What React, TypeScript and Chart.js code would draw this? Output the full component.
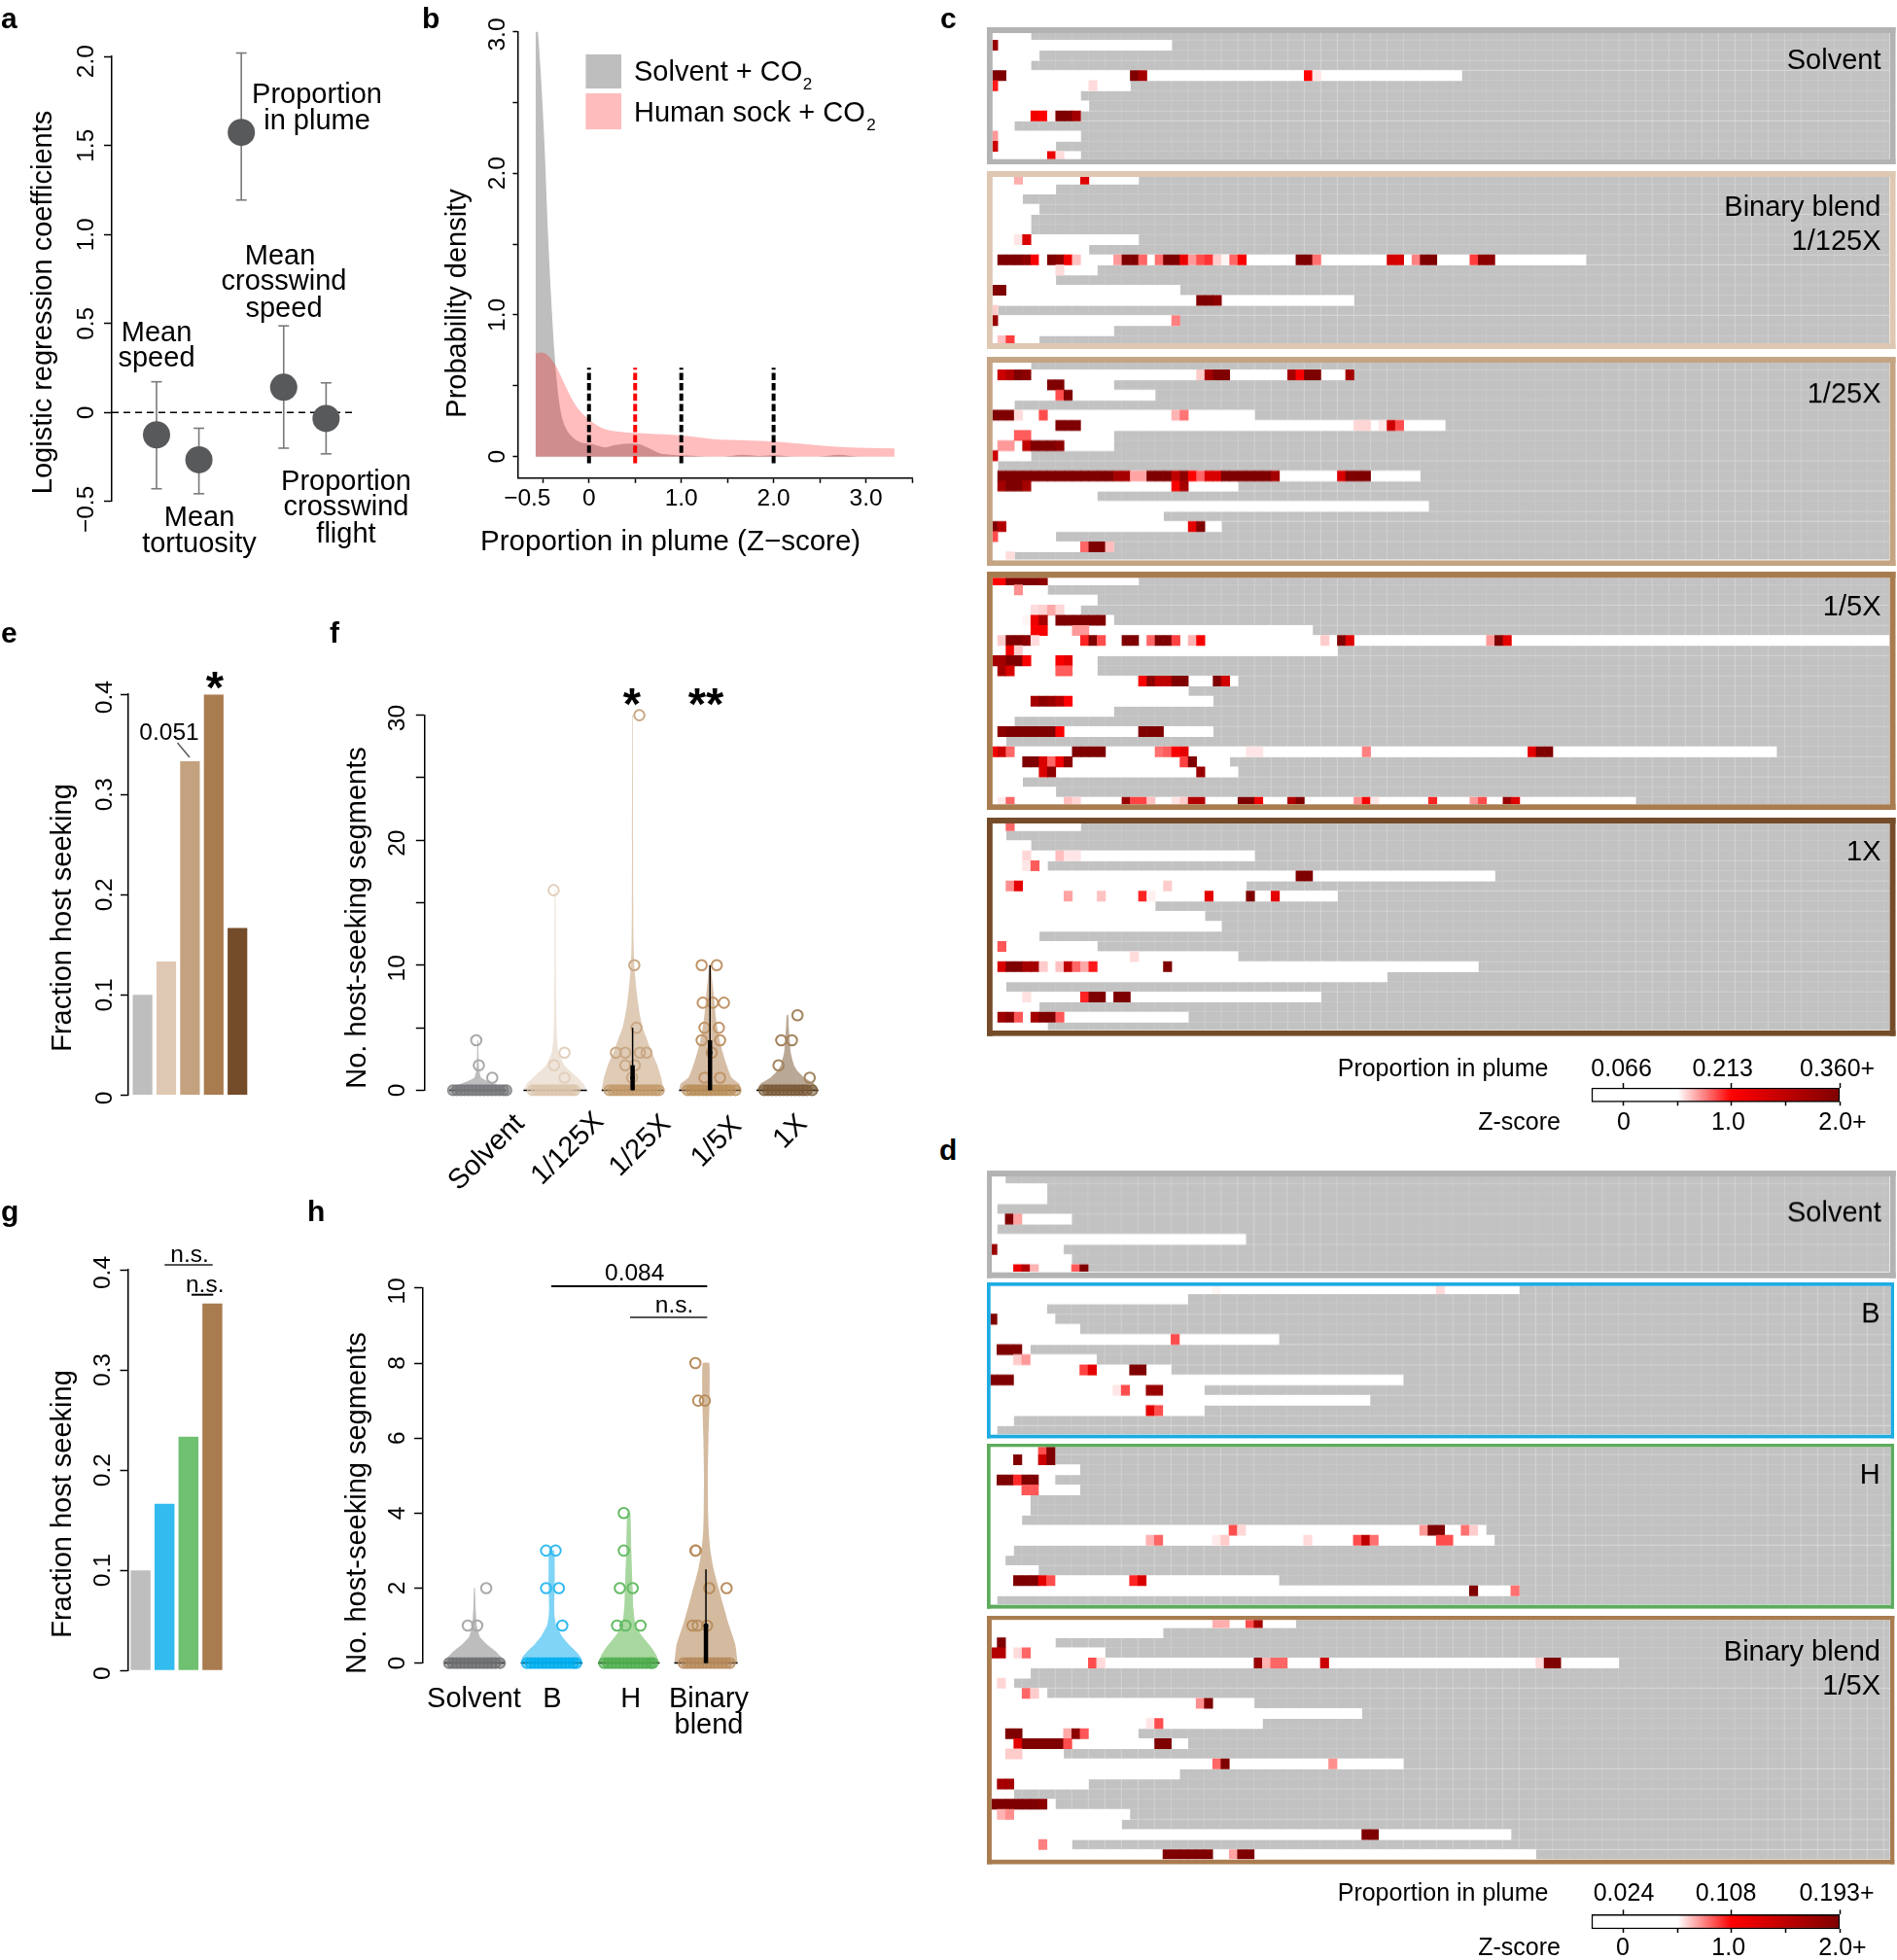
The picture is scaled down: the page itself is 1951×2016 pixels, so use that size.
import React, { useEffect, useRef } from "react";
import { Chart, registerables } from "chart.js";

Chart.register(...registerables);

const FONT = '"Liberation Sans", Arial, sans-serif';

/* ---------- panel a ---------- */
const aPos = [1, 2, 3, 4, 5];
const aMean = [-0.125, -0.265, 1.574, 0.142, -0.033];
const aHi = [0.173, -0.088, 2.02, 0.487, 0.167];
const aLo = [-0.428, -0.456, 1.194, -0.2, -0.232];
const aTicks = [-0.5, 0, 0.5, 1, 1.5, 2];
const aTickLabels = ["−0.5", "0", "0.5", "1.0", "1.5", "2.0"];

/* ---------- panel b ---------- */
const bSolvent = [[-0.58, 3.03], [-0.563, 3.03], [-0.527, 2.75], [-0.48, 2.17], [-0.445, 1.59], [-0.41, 1.12], [-0.374, 0.73], [-0.338, 0.465], [-0.303, 0.307], [-0.25, 0.2], [-0.178, 0.137], [-0.071, 0.097], [0, 0.092], [0.089, 0.079], [0.178, 0.066], [0.285, 0.081], [0.427, 0.092], [0.534, 0.089], [0.64, 0.063], [0.765, 0.024], [0.89, 0.013], [1.07, 0.008], [1.28, 0], [1.46, 0], [1.656, 0.013], [1.85, 0.005], [2.01, 0.01], [2.24, 0], [2.49, 0], [2.71, 0.013], [2.92, 0], [3.31, 0]];
const bSock = [[-0.58, 0.727], [-0.516, 0.735], [-0.445, 0.714], [-0.356, 0.635], [-0.25, 0.49], [-0.142, 0.36], [0, 0.262], [0.142, 0.202], [0.32, 0.176], [0.64, 0.163], [1, 0.15], [1.353, 0.123], [1.71, 0.115], [1.99, 0.108], [2.42, 0.084], [2.78, 0.066], [3.31, 0.058]];
const bMarkers = [0, 0.5, 1, 2];
const bXTicks = [-0.5, 0, 0.5, 1, 1.5, 2, 2.5, 3, 3.5];
const bYTicks = [0, 0.5, 1, 1.5, 2, 2.5, 3];

/* ---------- panels e, g ---------- */
const eValues = [0.1, 0.1333, 0.3333, 0.4, 0.1667];
const eColors = ["#bebebe", "#dfc8b3", "#c4a27f", "#a97c50", "#754c29"];
const gValues = [0.1, 0.1664, 0.2333, 0.3662];
const gColors = ["#bebebe", "#33bbf0", "#70c072", "#a97c50"];
const fracTicks = [0, 0.1, 0.2, 0.3, 0.4];

/* ---------- panel f ---------- */
const fCategories = ["Solvent", "1/125X", "1/25X", "1/5X", "1X"];
const fViolins = [
  [[0, 0.37], [0.3, 0.32], [0.6, 0.18], [1, 0.045], [1.5, 0.022], [2, 0.014], [3, 0.008], [4, 0.005]],
  [[0, 0.41], [0.5, 0.37], [1, 0.29], [1.5, 0.2], [2, 0.12], [3, 0.045], [4, 0.025], [5, 0.018], [6, 0.014], [10, 0.009], [16, 0.006]],
  [[0, 0.4], [1, 0.37], [2, 0.32], [3, 0.25], [4, 0.19], [5, 0.13], [6, 0.095], [7, 0.07], [8, 0.05], [9, 0.035], [10, 0.022], [12, 0.012], [15, 0.009], [20, 0.007], [30, 0.004]],
  [[0, 0.4], [0.5, 0.38], [1, 0.28], [2, 0.215], [3, 0.165], [4, 0.125], [5, 0.095], [6, 0.072], [7, 0.058], [8, 0.043], [9, 0.025], [10, 0.01]],
  [[0, 0.4], [0.5, 0.35], [1, 0.22], [1.5, 0.135], [2, 0.085], [3, 0.043], [4, 0.03], [5, 0.018], [6, 0.01]],
];
const fFill = ["#bdbdbd", "#efe4da", "#dfcbb6", "#d6bea6", "#b9a895"];
const fStroke = ["#a9a9a9", "#e3cfbc", "#c9a885", "#c09468", "#a3835f"];
const fBand = ["#77787b", "#dcc5ad", "#c39b6c", "#b98e5a", "#7a5a38"];
const fPoints = [
  [[-0.02, 4], [0.014, 2], [0.187, 1]],
  [[-0.02, 16], [0.12, 3], [-0.014, 2], [0.12, 1]],
  [[0.087, 30], [0.022, 10], [0.05, 5], [-0.216, 3], [-0.094, 3], [0.094, 3], [0.18, 3], [-0.094, 2], [0.029, 2], [-0.007, 1]],
  [[-0.108, 10], [0.087, 10], [-0.094, 7], [0.036, 7], [0.18, 7], [-0.072, 5], [0.115, 5], [-0.108, 4], [0.13, 4], [0.022, 3], [-0.072, 1], [0.13, 1]],
  [[0.13, 6], [-0.08, 4], [0.058, 4], [-0.115, 2], [0.288, 1]],
];
const fZeros = [
  [-0.32, -0.27, -0.22, -0.17, -0.12, -0.07, -0.02, 0.03, 0.08, 0.13, 0.18, 0.23, 0.28, 0.33, 0.37],
  [-0.29, -0.24, -0.19, -0.14, -0.09, -0.04, 0.01, 0.06, 0.11, 0.16, 0.21, 0.25],
  [-0.3, -0.25, -0.2, -0.15, -0.1, -0.05, 0, 0.05, 0.1, 0.15, 0.2, 0.25, 0.3, 0.34],
  [-0.29, -0.24, -0.19, -0.14, -0.09, -0.04, 0.01, 0.06, 0.11, 0.16, 0.21, 0.26, 0.33],
  [-0.3, -0.25, -0.2, -0.15, -0.1, -0.05, 0, 0.05, 0.1, 0.15, 0.2, 0.25, 0.32],
];
const fBoxes = [[3, 5, 2, 1], [4, 10, 4, 3]]; // group index+1, thin top, thick top, median
const fTicks = [0, 5, 10, 15, 20, 25, 30];

/* ---------- panel h ---------- */
const hCategories = ["Solvent", "B", "H", "Binary blend"];
const hViolins = [
  [[0, 0.39], [0.1, 0.37], [0.3, 0.28], [0.5, 0.16], [0.7, 0.07], [1, 0.03], [1.5, 0.014], [2, 0.006]],
  [[0, 0.4], [0.15, 0.38], [0.3, 0.32], [0.5, 0.22], [0.7, 0.14], [1, 0.06], [1.25, 0.038], [1.5, 0.033], [2, 0.04], [2.5, 0.04], [3, 0.033]],
  [[0, 0.4], [0.2, 0.36], [0.4, 0.3], [0.6, 0.22], [0.8, 0.145], [1, 0.087], [1.5, 0.058], [2, 0.05], [3, 0.033], [4, 0.02]],
  [[0, 0.41], [0.5, 0.38], [1, 0.3], [1.5, 0.23], [2, 0.165], [2.5, 0.1], [3, 0.058], [3.5, 0.036], [4, 0.029], [5, 0.025], [6, 0.033], [7, 0.047], [8, 0.043]],
];
const hFill = ["#bdbdbd", "#80d4f6", "#a8d8a0", "#d4bb9f"];
const hStroke = ["#a9a9a9", "#33bbf0", "#66bb66", "#b98e5f"];
const hBand = ["#6d6e71", "#00aeef", "#4fae4f", "#b78a5c"];
const hPoints = [
  [[0.152, 2], [-0.087, 1], [0.036, 1]],
  [[-0.072, 3], [0.051, 3], [-0.072, 2], [0.094, 2], [0.138, 1]],
  [[-0.065, 4], [-0.065, 3], [-0.116, 2], [0.051, 2], [-0.152, 1], [-0.043, 1], [0.152, 1]],
  [[-0.137, 8], [-0.101, 7], [-0.014, 7], [-0.137, 3], [-0.13, 3], [0.043, 2], [0.268, 2], [-0.174, 1], [-0.108, 1], [0.014, 1]],
];
const hZeros = [
  [-0.33, -0.28, -0.23, -0.18, -0.13, -0.08, -0.03, 0.02, 0.07, 0.12, 0.17, 0.22, 0.27, 0.33],
  [-0.32, -0.27, -0.22, -0.17, -0.12, -0.07, -0.02, 0.03, 0.08, 0.13, 0.18, 0.23, 0.28, 0.32],
  [-0.32, -0.27, -0.22, -0.17, -0.12, -0.07, -0.02, 0.03, 0.08, 0.13, 0.18, 0.23, 0.28, 0.31],
  [-0.29, -0.24, -0.19, -0.14, -0.09, -0.04, 0.01, 0.06, 0.11, 0.16, 0.21, 0.26, 0.31],
];
const hBoxes = [[4, 2.5, 1, 1]];
const hTicks = [0, 2, 4, 6, 8, 10];

/* ---------- heat maps: [white end, [col, z, z...], [col, z...]...] ---------- */
const cSolventRows: any[] = [
  [4], [21, [-1, 1.8]], [5], [4],
  [56, [-1, 2, 2], [16, 2, 1.7], [37, 1, 0.55]],
  [16, [-1, 0.95], [11, 0.57]], [10], [11],
  [10, [4, 1.1, 1, 0.52, 2, 2, 1.7]],
  [2], [10, [-1, 0.7]], [7, [-1, 1.4]], [10, [6, 1.15, 0.57]],
];
const c125Rows: any[] = [
  [17, [2, 0.66], [10, 1.25]], [7], [3], [5], [4], [4],
  [17, [2, 0.55, 1.3]], [11],
  [71, [0, 2, 2, 2, 1.9, 1.05, 0.5, 2, 1.9, 1.1, 0.62], [14, 0.7, 2, 2, 0.8], [19, 0.78, 2, 2, 1.15, 0.7, 0.85, 0.9, 0.6, 0.52, 0.8, 1.05], [36, 2, 2, 0.78], [47, 1.35, 1.3], [50, 0.75, 2, 2], [57, 0.88, 1.9, 1.9]],
  [12, [7, 0.57]], [7], [22, [-1, 2, 2]], [43, [24, 2, 2, 1.9]],
  [0, [-1, 0.6]], [22, [-1, 1.8], [21, 0.75]], [14], [5, [0, 0.62, 0.88]],
];
const c25Rows: any[] = [
  [4],
  [43, [0, 1.4, 1.6, 2, 1.9], [24, 0.6, 1.7, 2, 2], [35, 1.7, 1.05, 2, 2], [42, 1.7]],
  [14, [6, 2, 2]], [19, [7, 0.85, 2]], [2],
  [31, [-1, 2, 2, 2, 0.57], [5, 0.85], [21, 0.65, 0.77]],
  [54, [7, 2, 2, 2], [43, 0.58, 0.58], [46, 0.55, 1.4, 0.85]],
  [14, [2, 0.82, 0.82]],
  [14, [0, 0.7, 0.7], [3, 1.5, 2, 2, 2, 1.9]],
  [4, [-1, 1.4]], [0],
  [51, [0, 2, 2, 2, 2, 2, 2, 2, 2, 2, 2, 2, 2, 2, 2, 1.7, 1.7], [16, 0.68, 0.68, 2, 2, 2, 1.5, 1.9, 1, 0.8, 1.3, 1.3, 2, 2, 2, 2, 2, 2, 1.7], [41, 1.3, 2, 2, 2]],
  [29, [0, 1.7, 2, 2, 1.7], [21, 1.05, 1.7]],
  [12], [52], [20],
  [27, [-1, 2, 1.6], [23, 1.2, 2]],
  [7, [-1, 0.85]], [14, [10, 0.8, 2, 2, 0.63]], [2, [1, 0.57]],
];
const c5Rows: any[] = [
  [17, [-1, 1, 1, 2, 2, 2, 2, 1.9]],
  [6, [2, 0.72]], [12],
  [10, [4, 0.57, 0.59, 0.67, 0.58]],
  [14, [3, 0.52, 1.15, 1.7], [7, 2, 2, 2, 2, 2, 2]],
  [38, [4, 1.05, 1.05], [9, 0.7, 0.7]],
  [108, [0, 0.6, 2, 2, 1.9, 0.57], [10, 0.93, 2, 0.85], [15, 2, 2], [18, 0.8, 2, 2, 0.87], [23, 0.65, 1.05], [39, 0.6], [41, 2, 1.25], [59, 0.7, 2, 1.2]],
  [41, [1, 1.1, 0.6]],
  [12, [-1, 1.7, 1.7, 2, 2, 1.05], [7, 1.05, 1.2]],
  [12, [0, 1.7, 1.3], [7, 0.82, 0.82]],
  [29, [17, 1.05, 1.9, 1.5, 1.5, 2, 2], [26, 2, 1.35]],
  [23],
  [26, [4, 1.7, 1.9, 1.8, 1.6, 1]],
  [14], [2],
  [26, [0, 1.9, 2, 2, 2, 2, 2, 2, 1.05], [17, 2, 2, 2]],
  [1],
  [94, [-1, 1.1, 1.4, 0.8], [9, 2, 2, 2, 2], [19, 0.78, 0.82, 1.05, 1.2], [30, 0.55, 0.55], [44, 0.75], [64, 1.2, 2, 2]],
  [28, [3, 2, 2, 1.3, 0.8, 1.1, 1.9], [22, 0.87, 2]],
  [29, [5, 1.3, 1.9], [24, 1.8]],
  [3], [7],
  [77, [0, 0.54, 0.8], [8, 0.63, 0.58], [15, 1.8, 0.87, 0.87, 0.62], [21, 0.55, 0.6, 1.6, 1.6], [29, 2, 2, 1.1], [35, 1.6, 2], [43, 0.72, 1.05, 0.55], [52, 0.93], [57, 0.7, 0.85], [61, 1.8, 1.25]],
];
const c1Rows: any[] = [
  [10, [1, 0.8]], [1], [4],
  [31, [3, 0.58], [7, 0.63, 0.55, 0.55]],
  [6, [3, 0.55, 0.82]],
  [60, [36, 2, 2]],
  [30, [1, 0.72, 1.2], [20, 0.6]],
  [41, [8, 0.68], [12, 0.62], [17, 0.93, 0.53], [25, 1.2], [30, 2], [33, 1.2]],
  [19], [25], [27], [5], [12, [0, 0.83]], [29, [16, 0.57]],
  [58, [0, 1.3, 2, 2, 1.7, 1.7, 0.6], [7, 0.62, 1.5, 0.8, 0.67, 0.95], [20, 2]],
  [47], [1],
  [39, [3, 0.56], [10, 0.93, 2, 2], [14, 2, 2]],
  [5],
  [23, [0, 1.75, 1.9, 0.83], [4, 1.7, 2, 2, 0.83]],
  [6],
];
const dSolventRows: any[] = [
  [1], [6], [6], [0], [9, [1, 2, 0.68]], [0], [30], [8, [-1, 1.8]], [9],
  [11, [2, 1.15, 1.6, 0.65], [9, 0.83, 2]],
];
const dBRows: any[] = [
  [63, [26, 0.52], [53, 0.57]], [23], [6], [7, [-1, 2]], [10],
  [34, [21, 0.85]], [4, [0, 2, 2, 2]], [12, [2, 0.6, 0.7]],
  [21, [10, 0.87, 1.2], [16, 2, 2]],
  [49, [-1, 2, 2, 2]],
  [25, [14, 0.55, 0.85], [18, 1.8, 1.8]],
  [45], [25, [18, 1.2, 0.85]], [2], [0],
];
const dHRows: any[] = [
  [7, [5, 0.85, 2]], [7, [2, 2], [5, 1.4, 2]], [10],
  [7, [0, 2, 2, 0.92, 2, 2]], [10, [3, 0.83, 0.83]],
  [4], [4], [3],
  [59, [28, 0.85, 0.58], [51, 0.7, 2, 2], [56, 0.78, 0.6]],
  [60, [18, 0.65, 0.8], [26, 0.54, 0.6], [37, 0.57], [43, 0.85, 1.5, 0.78], [53, 0.85, 0.85]],
  [2], [1], [5],
  [34, [2, 2, 2, 2, 1.2, 0.85], [16, 0.93, 1.3]],
  [63, [57, 2], [62, 0.78]],
  [0],
];
const dBlendRows: any[] = [
  [36, [26, 0.66, 0.66], [30, 0.85, 1.7]],
  [20], [7, [0, 2]], [13, [-1, 1.6, 1.6], [2, 0.57, 0.8]],
  [75, [11, 0.85, 0.57], [31, 1.8, 0.65, 0.8, 0.8], [39, 1.4], [65, 0.57, 2, 2]],
  [4], [2, [0, 0.58]], [6, [3, 0.8, 0.6]],
  [31, [24, 0.72, 2]], [44], [32, [18, 0.55, 0.85]],
  [17, [1, 2, 2], [8, 0.67, 1.9, 0.83]],
  [23, [2, 1.2, 2, 2, 2, 2, 2, 0.85], [19, 2, 2]],
  [8, [1, 0.6, 0.6]],
  [49, [26, 0.8, 2], [40, 0.72]],
  [22], [11, [0, 1.7, 1.7]], [2],
  [7, [-1, 2, 2, 2, 2, 2, 2, 1.9]],
  [16, [0, 0.65, 0.72]], [15], [62, [44, 2, 2]],
  [9, [5, 0.75]],
  [65, [20, 2, 2, 2, 2, 2, 2], [28, 0.68, 2, 2]],
];

const heatPanels = [
  { rows: cSolventRows, color: "#b3b3b3", outer: [1014.5, 28.3, 1949, 169.3], inner: [1020.3, 34.3, 1943, 164], clip: 2.13, labels: [["Solvent", 60.5]] },
  { rows: c125Rows, color: "#dfc8b3", outer: [1014.5, 176, 1949, 359], inner: [1020.3, 182, 1943, 353], clip: 2.13, labels: [["Binary blend", 212], ["1/125X", 246.5]] },
  { rows: c25Rows, color: "#c4a482", outer: [1014.5, 367.3, 1949, 581.3], inner: [1020.3, 373.3, 1943, 575.7], clip: 2.13, labels: [["1/25X", 404]] },
  { rows: c5Rows, color: "#a97c50", outer: [1014.5, 587.7, 1949, 832.7], inner: [1020.3, 594, 1943, 827], clip: 2.13, labels: [["1/5X", 622.7]] },
  { rows: c1Rows, color: "#754c29", outer: [1014.5, 840.7, 1949, 1065.3], inner: [1020.3, 846.7, 1943, 1059.7], clip: 2.13, labels: [["1X", 874.6]] },
  { rows: dSolventRows, color: "#b3b3b3", outer: [1015.3, 1204, 1949, 1313.7], inner: [1020.3, 1210, 1943, 1307.7], clip: 2.13, labels: [["Solvent", 1246]] },
  { rows: dBRows, color: "#1cabe2", outer: [1015.3, 1319.3, 1948.3, 1478.7], inner: [1019, 1323, 1945, 1475], clip: 2.8, labels: [["B", 1350]] },
  { rows: dHRows, color: "#5dab5d", outer: [1015.3, 1484.7, 1948.3, 1654.3], inner: [1019, 1488, 1945, 1650.3], clip: 2.8, labels: [["H", 1515]] },
  { rows: dBlendRows, color: "#a97c50", outer: [1015, 1661.5, 1948.3, 1917], inner: [1019.9, 1665.7, 1944, 1912.3], clip: 2.8, labels: [["Binary blend", 1697], ["1/5X", 1731.7]] },
];

const colorBars = [
  { top: 1119, bottom: 1133.3, box: [1360, 1082, 591, 92], topLabels: [["0.066", 1667.6], ["0.213", 1771.7], ["0.360+", 1889.6]], botLabels: [["0", 1670], ["1.0", 1777.5], ["2.0+", 1895]], yTop: 1098, yBot: 1153 },
  { top: 1969.3, bottom: 1984, box: [1360, 1930, 591, 86], topLabels: [["0.024", 1670], ["0.108", 1775], ["0.193+", 1889]], botLabels: [["0", 1669], ["1.0", 1777.7], ["2.0+", 1895]], yTop: 1946, yBot: 2002 },
];

/* ---------- helpers ---------- */
function heatColor(z: number) {
  if (z <= 0.5) return "#ffffff";
  if (z <= 1) {
    const v = Math.round(255 * (1 - (z - 0.5) / 0.5));
    return `rgb(255,${v},${v})`;
  }
  const t = Math.min(z - 1, 1);
  return `rgb(${Math.round(255 - 128 * t)},0,0)`;
}

function notes(fn: (chart: any) => any[], box: number[]) {
  return {
    id: "notes",
    afterDraw(chart: any) {
      const ctx = chart.ctx;
      for (const n of fn(chart)) {
        ctx.save();
        ctx.translate(-box[0], -box[1]);
        if (n.rect) {
          ctx.fillStyle = n.color;
          ctx.fillRect(n.rect[0], n.rect[1], n.rect[2], n.rect[3]);
        } else if (n.line) {
          ctx.strokeStyle = n.color || "#000";
          ctx.lineWidth = n.w || 1.5;
          ctx.beginPath();
          ctx.moveTo(n.line[0], n.line[1]);
          ctx.lineTo(n.line[2], n.line[3]);
          ctx.stroke();
        } else {
          const size = n.size || 29;
          ctx.translate(n.x, n.y);
          if (n.rot) ctx.rotate((n.rot * Math.PI) / 180);
          ctx.font = `${n.weight || "normal"} ${size}px ${FONT}`;
          ctx.fillStyle = n.color || "#000";
          ctx.textAlign = n.align || "center";
          ctx.textBaseline = "middle";
          ctx.fillText(n.t, 0, size * 0.08);
        }
        ctx.restore();
      }
    },
  };
}

function baseOptions(box: number[], area: number[], scales: any) {
  return {
    responsive: false,
    maintainAspectRatio: false,
    animation: false,
    devicePixelRatio: 1,
    events: [],
    layout: {
      padding: {
        left: area[0] - box[0],
        top: area[1] - box[1],
        right: box[0] + box[2] - area[2],
        bottom: box[1] + box[3] - area[3],
      },
    },
    plugins: { legend: { display: false }, tooltip: { enabled: false } },
    scales,
  };
}

function tickSetter(values: number[]) {
  return (s: any) => {
    s.ticks = values.map((value) => ({ value }));
  };
}

function axisY(min: number, max: number, ticks: number[], tickLength = 8) {
  return {
    type: "linear",
    position: "left",
    min,
    max,
    afterBuildTicks: tickSetter(ticks),
    afterFit: (s: any) => {
      s.width = 0;
    },
    ticks: { display: false, autoSkip: false },
    border: { display: true, color: "#000", width: 1.5 },
    grid: { drawOnChartArea: false, drawTicks: true, tickLength, tickColor: "#000", tickWidth: 1.5 },
  };
}

function yTickNotes(chart: any, values: number[], labels: string[], x: number, box: number[], size = 24.5, dys: number[] = []) {
  const s = chart.scales.y;
  return values.map((v, i) => ({
    t: labels[i],
    x,
    y: s.getPixelForValue(v) + box[1] + (dys[i] || 0),
    rot: -90,
    size,
  }));
}

/* ---------- panel configs ---------- */
function panelA() {
  const box = [0, 0, 440, 600];
  const area = [115, 58.2, 365, 515.9];
  const datasets: any[] = [
    {
      data: aPos.map((x, i) => ({ x, y: aMean[i] })),
      pointRadius: 14,
      pointBackgroundColor: "#58595b",
      pointBorderWidth: 0,
      showLine: false,
      clip: false,
    },
  ];
  aPos.forEach((x, i) => {
    datasets.push({
      data: [{ x, y: aLo[i] }, { x, y: aHi[i] }],
      showLine: true,
      borderColor: "#7a7a7a",
      borderWidth: 1.6,
      pointStyle: "line",
      pointRadius: 5.5,
      pointBorderColor: "#7a7a7a",
      pointBorderWidth: 1.6,
      clip: false,
    });
  });
  datasets.push({
    data: [{ x: -0.055, y: 0 }, { x: 5.68, y: 0 }],
    showLine: true,
    borderColor: "#000",
    borderWidth: 1.5,
    borderDash: [7, 5],
    pointRadius: 0,
  });
  return {
    box,
    config: {
      type: "scatter",
      data: { datasets },
      options: baseOptions(box, area, { x: { type: "linear", display: false, min: -0.055, max: 5.68 }, y: axisY(-0.5, 2, aTicks, 8) }),
      plugins: [
        notes(
          (c) => [
            ...yTickNotes(c, aTicks, aTickLabels, 87.7, box, 24.5, [8, 0, 0, 0, 0, 5]),
            { t: "Logistic regression coefficients", x: 43, y: 311, rot: -90 },
            { t: "Proportion", x: 326, y: 95.7 },
            { t: "in plume", x: 326, y: 122.5 },
            { t: "Mean", x: 161, y: 340.6 },
            { t: "speed", x: 161, y: 367 },
            { t: "Mean", x: 288, y: 262 },
            { t: "crosswind", x: 292, y: 288 },
            { t: "speed", x: 292, y: 316 },
            { t: "Mean", x: 205, y: 531 },
            { t: "tortuosity", x: 205, y: 558 },
            { t: "Proportion", x: 356, y: 494 },
            { t: "crosswind", x: 356, y: 520 },
            { t: "flight", x: 356, y: 548 },
          ],
          box
        ),
      ],
    },
  };
}

function panelB() {
  const box = [440, 0, 535, 600];
  const area = [532.4, 32.5, 938, 491.8];
  const datasets: any[] = bMarkers.map((m) => ({
    data: [{ x: m, y: -0.047 }, { x: m, y: 0.627 }],
    showLine: true,
    borderColor: m === 0.5 ? "#ff0000" : "#000000",
    borderWidth: 4,
    borderDash: [7.5, 3.2],
    pointRadius: 0,
  }));
  datasets.push({
    data: bSock.map(([x, y]) => ({ x, y })),
    showLine: true,
    fill: { value: 0 },
    backgroundColor: "rgba(255,0,0,0.26)",
    borderWidth: 0,
    pointRadius: 0,
    cubicInterpolationMode: "monotone",
  });
  datasets.push({
    data: bSolvent.map(([x, y]) => ({ x, y })),
    showLine: true,
    fill: { value: 0 },
    backgroundColor: "#bebebe",
    borderWidth: 0,
    pointRadius: 0,
    cubicInterpolationMode: "monotone",
    clip: false,
  });
  const xLabels: any[] = [[-0.5, "−0.5", -16], [0, "0", 0], [1, "1.0", 0], [2, "2.0", 0], [3, "3.0", 0]];
  return {
    box,
    config: {
      type: "scatter",
      data: { datasets },
      options: baseOptions(box, area, {
        x: {
          type: "linear",
          position: "bottom",
          min: -0.773,
          max: 3.5,
          afterBuildTicks: tickSetter(bXTicks),
          afterFit: (s: any) => {
            s.height = 0;
          },
          ticks: { display: false, autoSkip: false },
          border: { display: true, color: "#000", width: 1.5 },
          grid: { drawOnChartArea: false, drawTicks: true, tickLength: 5, tickColor: "#000", tickWidth: 1.5 },
        },
        y: axisY(-0.152, 3, bYTicks, 5),
      }),
      plugins: [
        notes(
          (c) => [
            ...yTickNotes(c, [0, 1, 2, 3], ["0", "1.0", "2.0", "3.0"], 510.5, box, 24.5, [0, 0, 0, 3]),
            ...xLabels.map(([v, t, dx]) => ({ t, x: c.scales.x.getPixelForValue(v) + box[0] + dx, y: 511, size: 24.5 })),
            { t: "Proportion in plume (Z−score)", x: 689.6, y: 555, size: 29.5 },
            { t: "Probability density", x: 469, y: 312, rot: -90 },
            { rect: [602.4, 55.9, 36.6, 35.1], color: "#bebebe" },
            { rect: [602.4, 96, 36.6, 37], color: "#ffbcbc" },
            { t: "Solvent + CO", x: 652, y: 72.7, align: "left" },
            { t: "2", x: 830.6, y: 86, size: 17 },
            { t: "Human sock + CO", x: 652, y: 115, align: "left" },
            { t: "2", x: 896, y: 128, size: 17 },
          ],
          box
        ),
      ],
    },
  };
}

function barPanel(box: number[], area: number[], values: number[], colors: string[], min: number, max: number, ratio: number, titleY: number, labelX: number, extra: any[]) {
  return {
    box,
    config: {
      type: "bar",
      data: {
        datasets: [
          {
            data: values.map((y, i) => ({ x: i + 1, y })),
            backgroundColor: colors,
            grouped: false,
            barPercentage: ratio,
            categoryPercentage: 1,
            borderWidth: 0,
          },
        ],
      },
      options: baseOptions(box, area, {
        x: { type: "linear", display: false, offset: false, min, max, afterBuildTicks: tickSetter(values.map((_, i) => i + 1)) },
        y: axisY(0, 0.4, fracTicks, 8),
      }),
      plugins: [
        notes(
          (c) => [
            ...yTickNotes(c, fracTicks, ["0", "0.1", "0.2", "0.3", "0.4"], labelX, box, 24.5, [3, 0, 0, 0, 3]),
            { t: "Fraction host seeking", x: 63, y: titleY, rot: -90 },
            ...extra,
          ],
          box
        ),
      ],
    },
  };
}

function violinPanel(opts: any) {
  const { box, area, xMin, xMax, yMax, ticks, tickLabels, violins, fill, stroke, band, points, zeros, boxes, extra, titleY } = opts;
  const datasets: any[] = [];
  // top-most datasets come first
  boxes.forEach(([g, , , med]: number[]) => {
    datasets.push({
      data: [{ x: g, y: med }],
      showLine: false,
      pointRadius: 2.5,
      pointBackgroundColor: "#000",
      pointBorderWidth: 0,
      clip: false,
    });
  });
  boxes.forEach(([g, thin, thick]: number[]) => {
    datasets.push({ data: [{ x: g, y: 0 }, { x: g, y: thick }], showLine: true, borderColor: "#000", borderWidth: 4.5, pointRadius: 0, clip: false });
    datasets.push({ data: [{ x: g, y: 0 }, { x: g, y: thin }], showLine: true, borderColor: "#000", borderWidth: 1.5, pointRadius: 0, clip: false });
  });
  violins.forEach((_: any, i: number) => {
    const g = i + 1;
    datasets.push({
      data: points[i].map(([dx, y]: number[]) => ({ x: g + dx, y })),
      showLine: false,
      pointRadius: 5.3,
      pointBackgroundColor: "rgba(0,0,0,0)",
      pointBorderColor: stroke[i],
      pointBorderWidth: 2,
      clip: false,
    });
    datasets.push({
      data: zeros[i].map((dx: number) => ({ x: g + dx, y: 0 })),
      showLine: false,
      pointRadius: 5.3,
      pointBackgroundColor: band[i] + "88",
      pointBorderColor: band[i] + "cc",
      pointBorderWidth: 1.6,
      clip: false,
    });
    const hw0 = violins[i][0][1];
    datasets.push({
      data: [{ x: g - hw0, y: 0 }, { x: g + hw0, y: 0 }],
      showLine: true,
      borderColor: "#000",
      borderWidth: 1.5,
      pointRadius: 0,
      clip: false,
    });
  });
  violins.forEach((prof: number[][], i: number) => {
    const g = i + 1;
    const right = prof.map(([y, w]) => ({ x: g + w, y }));
    const left = prof.map(([y, w]) => ({ x: g - w, y })).reverse();
    datasets.push({
      data: [...right, ...left],
      showLine: true,
      fill: "shape",
      tension: 0.15,
      backgroundColor: fill[i],
      borderWidth: 0,
      pointRadius: 0,
      clip: false,
    });
  });
  return {
    box,
    config: {
      type: "scatter",
      data: { datasets },
      options: baseOptions(box, area, { x: { type: "linear", display: false, min: xMin, max: xMax }, y: axisY(0, yMax, ticks, 8.5) }),
      plugins: [
        notes(
          (c) => [
            ...yTickNotes(c, tickLabels.map(Number), tickLabels, 407.6, box, 24.5, tickLabels.map((l: string) => (l.length > 1 ? 3 : 0))),
            { t: "No. host-seeking segments", x: 366, y: titleY, rot: -90 },
            ...extra,
          ],
          box
        ),
      ],
    },
  };
}

function heatPanel(p: any) {
  const box = [p.outer[0] - 1, p.outer[1] - 1, p.outer[2] - p.outer[0] + 2, p.outer[3] - p.outer[1] + 2];
  const area = p.inner;
  const PITCH = 8.525;
  const ORIGIN = 1025.64;
  const ROW = 10.4;
  const xMin = (area[0] - ORIGIN) / PITCH;
  const xMax = (area[2] - ORIGIN) / PITCH;
  const yMin = -p.clip / ROW;
  const yMax = yMin + (area[3] - area[1]) / ROW;
  const gray: any[] = [];
  const white: any[] = [];
  const hot: any[] = [];
  const hotColors: string[] = [];
  p.rows.forEach((row: any[], y: number) => {
    const end = row[0];
    white.push({ x: [-2, end], y });
    let a = end;
    while (a < xMax) {
      const b = a % 2 === 0 ? a + 1 : a + 2;
      gray.push({ x: [a, Math.min(b, xMax + 1)], y });
      a = b;
    }
    row.slice(1).forEach((run: number[]) => {
      run.slice(1).forEach((z, i) => {
        hot.push({ x: [run[0] + i, run[0] + i + 1], y });
        hotColors.push(heatColor(z));
      });
    });
  });
  const common = { grouped: false, barPercentage: 1, categoryPercentage: 1, clip: 0 };
  const rowTicks = p.rows.map((_: any, i: number) => i);
  return {
    box,
    config: {
      type: "bar",
      data: {
        datasets: [
          { ...common, data: hot, backgroundColor: hotColors, borderWidth: 0 },
          { ...common, data: white, backgroundColor: "#ffffff", borderWidth: 0 },
          {
            ...common,
            data: gray,
            backgroundColor: "#c2c2c2",
            borderColor: "#cbcbcb",
            borderWidth: { top: 0, right: 1, bottom: 1, left: 0 },
            borderSkipped: false,
          },
        ],
      },
      options: {
        ...baseOptions(box, area, {
          x: { type: "linear", display: false, min: xMin, max: xMax },
          y: { type: "linear", display: false, offset: false, reverse: true, min: yMin, max: yMax, afterBuildTicks: tickSetter(rowTicks) },
        }),
        indexAxis: "y",
      },
      plugins: [
        notes(
          () => [
            { rect: [p.outer[0], p.outer[1], p.outer[2] - p.outer[0], p.inner[1] - p.outer[1]], color: p.color },
            { rect: [p.outer[0], p.inner[3], p.outer[2] - p.outer[0], p.outer[3] - p.inner[3]], color: p.color },
            { rect: [p.outer[0], p.outer[1], p.inner[0] - p.outer[0], p.outer[3] - p.outer[1]], color: p.color },
            { rect: [p.inner[2], p.outer[1], p.outer[2] - p.inner[2], p.outer[3] - p.outer[1]], color: p.color },
            ...p.labels.map(([t, y]: any[]) => ({ t, x: 1934, y, align: "right" })),
          ],
          box
        ),
      ],
    },
  };
}

function colorBarPanel(p: any) {
  const box = p.box;
  const area = [1637, p.top, 1892, p.bottom];
  const gradient = (c: any) => {
    const s = c.chart.scales.x;
    if (!s || !Number.isFinite(s.left) || !Number.isFinite(s.right) || !(s.right > s.left)) return "#ffffff";
    const g = c.chart.ctx.createLinearGradient(s.left, 0, s.right, 0);
    const stop = (z: number) => Math.min(1, Math.max(0, (z - -0.297) / 2.297));
    g.addColorStop(0, heatColor(0));
    g.addColorStop(stop(0.5), heatColor(0.5));
    g.addColorStop(stop(1), heatColor(1));
    g.addColorStop(1, heatColor(2));
    return g;
  };
  const axis = (position: string, ticks: number[], tickLength: number) => ({
    type: "linear",
    axis: "x",
    position,
    min: -0.297,
    max: 2,
    afterBuildTicks: tickSetter(ticks),
    afterFit: (s: any) => {
      s.height = 0;
    },
    ticks: { display: false, autoSkip: false },
    border: { display: false },
    grid: { drawOnChartArea: false, drawTicks: true, tickLength, tickColor: "#000", tickWidth: 1.5 },
  });
  return {
    box,
    config: {
      type: "bar",
      data: {
        datasets: [
          {
            data: [{ x: [-0.297, 2], y: 0 }],
            backgroundColor: gradient,
            borderColor: "#000",
            borderWidth: 1.5,
            borderSkipped: false,
            grouped: false,
            barPercentage: 1,
            categoryPercentage: 1,
            xAxisID: "x",
            clip: false,
          },
        ],
      },
      options: {
        ...baseOptions(box, area, {
          x: axis("bottom", [0, 0.5, 1, 1.5, 2], 4),
          x2: axis("top", [0, 1, 2], 5),
          y: { type: "linear", display: false, offset: false, min: -0.5, max: 0.5, afterBuildTicks: tickSetter([]) },
        }),
        indexAxis: "y",
      },
      plugins: [
        notes(
          () => [
            { t: "Proportion in plume", x: 1592.5, y: p.yTop, size: 25, align: "right" },
            { t: "Z-score", x: 1605, y: p.yBot, size: 25, align: "right" },
            ...p.topLabels.map(([t, x]: any[]) => ({ t, x, y: p.yTop, size: 25 })),
            ...p.botLabels.map(([t, x]: any[]) => ({ t, x, y: p.yBot, size: 25 })),
          ],
          box
        ),
      ],
    },
  };
}

const panels: any[] = [
  panelA(),
  panelB(),
  barPanel([0, 640, 330, 590], [132, 714.2, 256.4, 1126.4], eValues, eColors, 0.4016, 5.5, 0.828, 944, 106, [
    { t: "0.051", x: 174, y: 752.5, size: 24.5 },
    { line: [182.5, 764, 195, 779], color: "#58595b", w: 1.5 },
    { t: "*", x: 221, y: 706, size: 47, weight: "bold" },
  ]),
  barPanel([0, 1240, 320, 560], [131.5, 1306, 254, 1718.3], gValues, gColors, 0.4675, 5.447, 0.833, 1547, 104.5, [
    { t: "n.s.", x: 195, y: 1289.6, size: 24.5 },
    { line: [169.3, 1301, 218.7, 1301], color: "#555", w: 2 },
    { t: "n.s.", x: 210.7, y: 1320.6, size: 24.5 },
    { line: [197, 1331.7, 219.3, 1331.7], color: "#000", w: 2 },
  ]),
  violinPanel({
    box: [330, 640, 570, 600],
    area: [436.3, 735.6, 857.6, 1121.4],
    xMin: 0.308,
    xMax: 5.6,
    yMax: 30,
    ticks: fTicks,
    tickLabels: ["0", "10", "20", "30"],
    violins: fViolins,
    fill: fFill,
    stroke: fStroke,
    band: fBand,
    points: fPoints,
    zeros: fZeros,
    boxes: fBoxes,
    titleY: 944,
    extra: [
      { t: fCategories[0], x: 499, y: 1184, rot: -45 },
      { t: fCategories[1], x: 582.5, y: 1180, rot: -45 },
      { t: fCategories[2], x: 657, y: 1177, rot: -45 },
      { t: fCategories[3], x: 735.6, y: 1173, rot: -45 },
      { t: fCategories[4], x: 811.5, y: 1162.6, rot: -45 },
      { t: "*", x: 650, y: 723, size: 47, weight: "bold" },
      { t: "**", x: 726, y: 723, size: 47, weight: "bold" },
    ],
  }),
  violinPanel({
    box: [320, 1240, 580, 560],
    area: [434.6, 1324.9, 853, 1710.6],
    xMin: 0.327,
    xMax: 5.6,
    yMax: 10,
    ticks: hTicks,
    tickLabels: ["0", "2", "4", "6", "8", "10"],
    violins: hViolins,
    fill: hFill,
    stroke: hStroke,
    band: hBand,
    points: hPoints,
    zeros: hZeros,
    boxes: hBoxes,
    titleY: 1546,
    extra: [
      { t: hCategories[0], x: 487.4, y: 1745.8 },
      { t: hCategories[1], x: 568, y: 1745.8 },
      { t: hCategories[2], x: 648.7, y: 1745.8 },
      { t: "Binary", x: 729, y: 1745.8 },
      { t: "blend", x: 729, y: 1773 },
      { t: "0.084", x: 652.7, y: 1308, size: 24.5 },
      { line: [567, 1323, 727.3, 1323], color: "#000", w: 2 },
      { t: "n.s.", x: 693.5, y: 1341, size: 24.5 },
      { line: [648, 1355, 727.3, 1355], color: "#555", w: 2 },
    ],
  }),
  ...heatPanels.map(heatPanel),
  ...colorBars.map(colorBarPanel),
];

const panelLetters: any[] = [
  ["a", 1, 19],
  ["b", 434, 19],
  ["c", 967, 19],
  ["d", 966, 1183],
  ["e", 1, 651],
  ["f", 339, 651],
  ["g", 1, 1246],
  ["h", 316, 1246],
];

function Panel({ spec }: { spec: any }) {
  const ref = useRef<HTMLCanvasElement | null>(null);
  useEffect(() => {
    const chart = new Chart(ref.current as any, spec.config);
    return () => chart.destroy();
  }, [spec]);
  const [x, y, w, h] = spec.box;
  return (
    <canvas
      ref={ref}
      width={w}
      height={h}
      style={{ position: "absolute", left: x, top: y, width: w, height: h, display: "block" }}
    />
  );
}

export default function App() {
  return (
    <div style={{ position: "absolute", left: 0, top: 0, width: 1951, height: 2016, overflow: "hidden", background: "#fff" }}>
      {panels.map((spec, i) => (
        <Panel key={i} spec={spec} />
      ))}
      {panelLetters.map(([t, x, y]) => (
        <div
          key={t}
          style={{ position: "absolute", left: x, top: y - 17, fontFamily: FONT, fontWeight: "bold", fontSize: 30, lineHeight: "34px", color: "#000" }}
        >
          {t}
        </div>
      ))}
    </div>
  );
}
